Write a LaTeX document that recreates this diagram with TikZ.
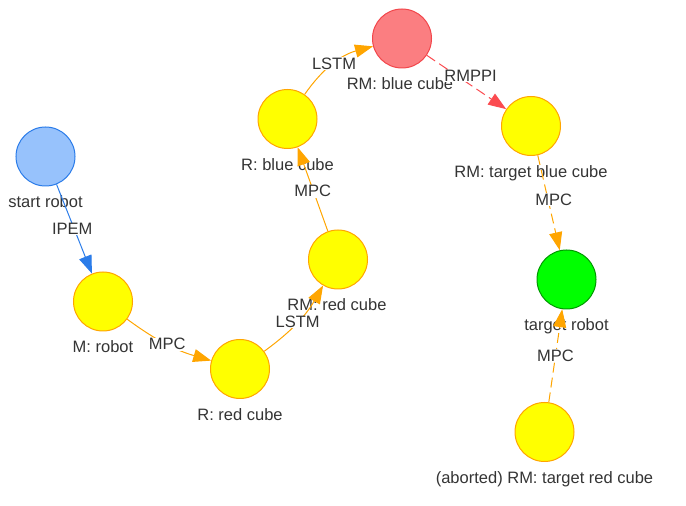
\documentclass[tikz,border=0pt]{standalone}
\usepackage{fontspec}
\setmainfont{Liberation Sans}
\usetikzlibrary{arrows.meta}
\definecolor{txt}{HTML}{343434}
\definecolor{ora}{HTML}{FFA500}
\definecolor{yel}{HTML}{FFFF00}
\definecolor{blueF}{HTML}{97C2FC}
\definecolor{blueB}{HTML}{2B7CE9}
\definecolor{redF}{HTML}{FB7E81}
\definecolor{redB}{HTML}{F2464B}
\definecolor{redE}{HTML}{FB4B50}
\definecolor{greenF}{HTML}{00FF00}
\definecolor{greenB}{HTML}{009900}
\begin{document}
\begin{tikzpicture}[x=1pt,y=1pt,
  every node/.style={font=\fontsize{16.5}{19}\selectfont, text=txt},
  dot/.style={circle, minimum size=59pt, inner sep=0pt, line width=1pt, draw},
  ynode/.style={dot, fill=yel, draw=ora},
  lab/.style={anchor=base, inner sep=0pt},
  conn/.style={line width=1pt, -{Triangle[length=18pt,width=13pt]}},
  dsh/.style={dash pattern=on 10pt off 5pt},
  elab/.style={fill=white, inner sep=0.5pt, anchor=center}
]
\useasboundingbox (0,0) rectangle (686,506);
% nodes
\node[dot, fill=blueF, draw=blueB] (start) at (45.5,349.5) {};
\node[ynode] (M) at (103,204.5) {};
\node[ynode] (Rred) at (240,137) {};
\node[ynode] (RMred) at (338,246.5) {};
\node[ynode] (Rblue) at (287.5,387) {};
\node[dot, fill=redF, draw=redB] (RMblue) at (402,467.5) {};
\node[ynode] (RMtb) at (531,380) {};
\node[dot, fill=greenF, draw=greenB] (target) at (566.5,226.5) {};
\node[ynode] (aborted) at (544.5,74) {};
% node labels
\node[lab] (lstart) at ([yshift=-51.5pt]start.center) {start robot};
\node[lab] (lM) at ([yshift=-51.5pt]M.center) {M: robot};
\node[lab] (lRred) at ([yshift=-51.5pt]Rred.center) {R: red cube};
\node[lab] (lRMred) at ([xshift=-1pt,yshift=-51.5pt]RMred.center) {RM: red cube};
\node[lab] (lRblue) at ([yshift=-51.5pt]Rblue.center) {R: blue cube};
\node[lab] (lRMblue) at ([xshift=-2pt,yshift=-51.5pt]RMblue.center) {RM: blue cube};
\node[lab] (lRMtb) at ([yshift=-51.5pt]RMtb.center) {RM: target blue cube};
\node[lab] (ltarget) at ([yshift=-51.5pt]target.center) {target robot};
\node[lab] (laborted) at ([yshift=-51.5pt]aborted.center) {(aborted) RM: target red cube};
% connectors
\draw[conn, blueB] (start) -- node[elab, xshift=-2pt] (e1) {IPEM} (M);
\draw[conn, ora] (M) to[bend right=10] node[elab] (e2) {MPC} (Rred);
\draw[conn, ora] (Rred) to[bend right=12] node[elab] (e3) {LSTM} (RMred);
\draw[conn, ora] (RMred) -- node[elab, yshift=-2pt] (e4) {MPC} (Rblue);
\draw[conn, ora] (Rblue) to[bend left=20] node[elab] (e5) {LSTM} (RMblue);
\draw[conn, redE, dsh] (RMblue) -- node[elab, inner sep=0pt, xshift=4pt, yshift=6pt] (e6) {RMPPI} (RMtb);
\draw[conn, ora, dsh] (RMtb) -- node[elab, xshift=5pt, yshift=3pt] (e7) {MPC} (target);
\draw[conn, ora, dsh] (aborted) -- node[elab] (e8) {MPC} (target);
\end{tikzpicture}
\end{document}
